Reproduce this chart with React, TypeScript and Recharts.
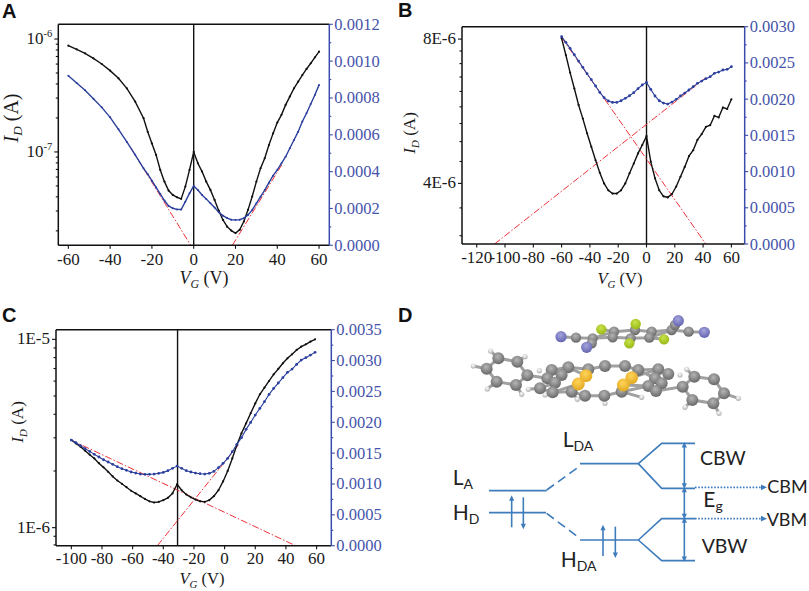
import { ComposedChart, Label, Line, LineChart, ReferenceLine, Scatter, XAxis, YAxis } from "recharts";

// panel A
const aVg = [-60, -56, -52, -48, -44, -40, -36, -32, -28, -24, -22, -20, -18, -16, -14, -12, -10, -8, -6, -4, -2, 0, 2, 4, 6, 8, 10, 12, 14, 16, 18, 20, 22, 24, 26, 28, 30, 32, 34, 36, 38, 40, 42, 44, 46, 48, 50, 52, 54, 56, 58, 60];
const aBlack = [8.73e-7, 8.1e-7, 7.47e-7, 6.74e-7, 6.01e-7, 5.25e-7, 4.49e-7, 3.66e-7, 2.79e-7, 1.99e-7, 1.51e-7, 1.19e-7, 9.41e-8, 6.93e-8, 5.46e-8, 4.55e-8, 4.16e-8, 3.97e-8, 3.84e-8, 4.93e-8, 6.93e-8, 1.0e-7, 7.94e-8, 6.7e-8, 5.46e-8, 4.61e-8, 3.76e-8, 3.02e-8, 2.5e-8, 2.18e-8, 2.01e-8, 1.91e-8, 2.04e-8, 2.42e-8, 3.07e-8, 4.03e-8, 5.46e-8, 7.17e-8, 8.79e-8, 1.15e-7, 1.46e-7, 1.82e-7, 2.13e-7, 2.61e-7, 3.09e-7, 3.66e-7, 4.19e-7, 4.8e-7, 5.43e-7, 6.09e-7, 6.88e-7, 7.73e-7];
const aBlue = [0.000921, 0.000881, 0.000842, 0.000796, 0.000749, 0.000695, 0.00063, 0.000561, 0.000491, 0.000418, 0.000386, 0.000351, 0.000315, 0.000279, 0.000243, 0.000214, 0.000201, 0.000195, 0.000194, 0.000237, 0.000282, 0.000322, 0.0003, 0.000273, 0.000252, 0.000228, 0.000205, 0.000179, 0.000161, 0.000148, 0.000139, 0.000138, 0.000139, 0.000147, 0.000165, 0.000192, 0.000228, 0.000264, 0.0003, 0.00034, 0.000378, 0.000409, 0.000445, 0.000481, 0.000527, 0.000572, 0.000617, 0.000672, 0.000717, 0.000767, 0.000816, 0.000871];
const aRedVg = [[-30, -1.44], [18.5, 42.1]];
const aRedI = [[0.000527, 0], [0, 0.000436]];
const aTicksX = [-60, -40, -20, 0, 20, 40, 60];
const aTicksL = [1e-6, 9e-7, 8e-7, 7e-7, 6e-7, 5e-7, 4e-7, 3e-7, 2e-7, 1e-7, 9e-8, 8e-8, 7e-8, 6e-8, 5e-8, 4e-8, 3e-8, 2e-8];
const aTicksR = [0, 0.0001, 0.0002, 0.0003, 0.0004, 0.0005, 0.0006, 0.0007, 0.0008, 0.0009, 0.001, 0.0011, 0.0012];

// panel B
const bVg = [-60, -57, -54, -51, -48, -45, -42, -39, -36, -33, -30, -27, -24, -21, -18, -15, -12, -9, -6, -3, 0, 3, 6, 9, 12, 15, 18, 21, 24, 27, 30, 33, 36, 39, 42, 45, 48, 51, 54, 57, 60];
const bBlack = [8.03e-6, 7.41e-6, 6.81e-6, 6.31e-6, 5.83e-6, 5.46e-6, 5.09e-6, 4.77e-6, 4.47e-6, 4.21e-6, 4.0e-6, 3.87e-6, 3.81e-6, 3.81e-6, 3.87e-6, 4.0e-6, 4.2e-6, 4.4e-6, 4.62e-6, 4.81e-6, 5.02e-6, 4.44e-6, 4.1e-6, 3.87e-6, 3.76e-6, 3.74e-6, 3.8e-6, 3.94e-6, 4.13e-6, 4.33e-6, 4.56e-6, 4.69e-6, 4.93e-6, 5.07e-6, 5.25e-6, 5.29e-6, 5.53e-6, 5.49e-6, 5.76e-6, 5.72e-6, 5.99e-6];
const bBlue = [0.002862, 0.002784, 0.002701, 0.002613, 0.002526, 0.002439, 0.002351, 0.002268, 0.002181, 0.002093, 0.00202, 0.001974, 0.001955, 0.001955, 0.001978, 0.002011, 0.002047, 0.002089, 0.002144, 0.002195, 0.002231, 0.002135, 0.002043, 0.001978, 0.001946, 0.001932, 0.00196, 0.001997, 0.002043, 0.002084, 0.002126, 0.002172, 0.002218, 0.00225, 0.002282, 0.00231, 0.002356, 0.002374, 0.002402, 0.002411, 0.002448];
const bRedVg = [[-60, 41.9], [-107.4, 41.5]];
const bRedI = [[0.00285, 0], [0, 0.00229]];
const bTicksX = [-120, -100, -80, -60, -40, -20, 0, 20, 40, 60];
const bTicksL = [8e-6, 7.556e-6, 7.111e-6, 6.667e-6, 6.222e-6, 5.778e-6, 5.333e-6, 4.889e-6, 4.444e-6, 4e-6, 3.556e-6, 3.111e-6];
const bTicksR = [0, 0.00025, 0.0005, 0.00075, 0.001, 0.00125, 0.0015, 0.00175, 0.002, 0.00225, 0.0025, 0.00275, 0.003];

// panel C
const cVg = [-100, -97, -94, -91, -88, -85, -82, -79, -76, -73, -70, -67, -64, -61, -58, -55, -52, -49, -46, -43, -40, -37, -34, -31, -28, -25, -22, -19, -16, -13, -10, -7, -4, -1, 2, 5, 8, 11, 14, 17, 20, 23, 26, 29, 32, 35, 38, 41, 44, 47, 50, 53, 56, 59];
const cBlack = [2.92e-6, 2.8e-6, 2.69e-6, 2.56e-6, 2.44e-6, 2.33e-6, 2.2e-6, 2.09e-6, 1.98e-6, 1.87e-6, 1.78e-6, 1.71e-6, 1.64e-6, 1.57e-6, 1.52e-6, 1.47e-6, 1.42e-6, 1.38e-6, 1.36e-6, 1.37e-6, 1.4e-6, 1.44e-6, 1.52e-6, 1.7e-6, 1.58e-6, 1.5e-6, 1.45e-6, 1.41e-6, 1.38e-6, 1.37e-6, 1.4e-6, 1.47e-6, 1.58e-6, 1.76e-6, 2.0e-6, 2.33e-6, 2.75e-6, 3.17e-6, 3.58e-6, 4.05e-6, 4.57e-6, 5.11e-6, 5.54e-6, 6.01e-6, 6.52e-6, 6.96e-6, 7.46e-6, 7.93e-6, 8.33e-6, 8.78e-6, 9.14e-6, 9.41e-6, 9.72e-6, 1e-5];
const cBlue = [0.001712, 0.001669, 0.00162, 0.001572, 0.001528, 0.00148, 0.001437, 0.001393, 0.001356, 0.001318, 0.00128, 0.001248, 0.001221, 0.001194, 0.001177, 0.001161, 0.001156, 0.001156, 0.001161, 0.001172, 0.001188, 0.001215, 0.001253, 0.001291, 0.001253, 0.001215, 0.001194, 0.001177, 0.001167, 0.001161, 0.001172, 0.001204, 0.001264, 0.001334, 0.001415, 0.001523, 0.001642, 0.00175, 0.001885, 0.001998, 0.002117, 0.002225, 0.002333, 0.002452, 0.002549, 0.002636, 0.002722, 0.002809, 0.002862, 0.002938, 0.003008, 0.003046, 0.003089, 0.003133];
const cRedVg = [[-100, 46.3], [-43.9, 8.9]];
const cRedI = [[0.00171, 0], [0, 0.00163]];
const cTicksX = [-100, -80, -60, -40, -20, 0, 20, 40, 60];
const cTicksL = [1e-5, 9e-6, 8e-6, 7e-6, 6e-6, 5e-6, 4e-6, 3e-6, 2e-6, 1e-6, 9e-7, 8.1e-7];
const cTicksR = [0, 0.00025, 0.0005, 0.00075, 0.001, 0.00125, 0.0015, 0.00175, 0.002, 0.00225, 0.0025, 0.00275, 0.003, 0.00325, 0.0035];

// panel D, read in the reference's own pixel grid (3x)
const levelLines = [
  [[207, 572], [380, 572]],
  [[480, 491], [655, 491], [725, 430], [825, 430]],
  [[655, 491], [725, 565], [825, 565]],
  [[207, 638], [378, 638]],
  [[480, 720], [655, 720], [725, 656], [825, 656]],
  [[655, 720], [725, 782], [825, 782]],
  [[275, 600], [275, 682]],
  [[310, 592], [310, 675]],
  [[549, 688], [549, 768]],
  [[586, 680], [586, 760]],
  [[793, 438], [793, 553]],
  [[793, 573], [793, 645]],
  [[793, 666], [793, 774]],
];
const dashedLines = [
  [[380, 570], [470, 505]],
  [[380, 640], [470, 708]],
];
const dottedLines = [
  [[825, 562], [1025, 562]],
  [[825, 656], [1025, 656]],
];
const arrowHeads = [
  { x: 275, y: 592, dir: "up" }, { x: 310, y: 682, dir: "down" },
  { x: 549, y: 680, dir: "up" }, { x: 586, y: 768, dir: "down" },
  { x: 793, y: 432, dir: "up" }, { x: 793, y: 560, dir: "down" },
  { x: 793, y: 566, dir: "up" }, { x: 793, y: 652, dir: "down" },
  { x: 793, y: 658, dir: "up" }, { x: 793, y: 780, dir: "down" },
  { x: 1035, y: 562, dir: "right" }, { x: 1035, y: 656, dir: "right" },
];
const levelNames = [
  { x: 98, y: 555, main: "L", sub: "A", size: 21 },
  { x: 98, y: 660, main: "H", sub: "D", size: 21 },
  { x: 428, y: 440, main: "L", sub: "DA", size: 21 },
  { x: 422, y: 802, main: "H", sub: "DA", size: 21 },
  { x: 850, y: 622, main: "E", sub: "g", size: 21 },
  { x: 840, y: 494, main: "CBW", sub: "", size: 19.5 },
  { x: 845, y: 758, main: "VBW", sub: "", size: 19.5 },
  { x: 1042, y: 580, main: "CBM", sub: "", size: 18 },
  { x: 1040, y: 678, main: "VBM", sub: "", size: 18 },
];
const bondLines = [
  [[423, 110], [468, 113], [518, 115], [500, 142]],
  [[518, 115], [582, 95], [645, 90], [695, 95], [755, 90], [775, 62]],
  [[755, 90], [806, 95], [853, 97]],
  [[518, 115], [578, 112], [632, 115], [688, 113], [755, 90]],
  [[544, 88], [582, 95]],
  [[647, 72], [645, 90]],
  [[628, 130], [632, 115]],
  [[732, 118], [688, 113]],
  [[235, 175], [292, 185], [322, 226], [288, 255], [230, 245], [200, 206], [235, 175]],
  [[322, 226], [382, 235], [395, 210], [445, 202], [505, 208], [555, 198], [615, 198], [655, 210], [715, 208], [745, 222], [725, 250], [705, 235], [655, 210]],
  [[382, 235], [405, 248], [360, 265], [398, 277], [455, 275], [495, 287], [553, 287], [605, 275], [685, 258], [708, 273], [725, 250]],
  [[708, 273], [788, 260], [823, 230], [882, 238], [912, 280], [880, 310], [817, 300], [788, 260]],
  [[395, 210], [425, 225], [405, 248]],
  [[445, 202], [498, 227], [475, 252], [398, 277]],
  [[635, 233], [610, 255], [685, 258]],
  [[635, 233], [715, 208]],
  [[235, 175], [212, 153]],
  [[292, 185], [315, 170]],
  [[200, 206], [160, 198]],
  [[230, 245], [202, 267]],
  [[288, 255], [305, 283]],
  [[912, 280], [955, 295]],
  [[880, 310], [897, 340]],
  [[817, 300], [795, 322]],
  [[823, 230], [800, 208]],
  [[360, 265], [325, 268]],
  [[398, 277], [375, 285]],
  [[455, 275], [472, 298]],
  [[553, 287], [555, 310]],
  [[605, 275], [665, 292]],
];
const hydrogen = [[212, 153], [315, 170], [160, 198], [202, 267], [305, 283], [325, 268], [358, 212], [375, 285], [472, 298], [555, 310], [665, 292], [800, 208], [780, 225], [955, 295], [897, 340], [795, 322]];
const carbonTop = [[468, 113], [518, 115], [515, 130], [582, 95], [578, 112], [645, 90], [632, 115], [695, 95], [688, 113], [755, 90], [765, 75], [806, 95]];
const carbonBottom = [[235, 175], [292, 185], [200, 206], [322, 226], [230, 245], [288, 255], [395, 210], [445, 202], [382, 235], [425, 225], [405, 248], [360, 265], [398, 277], [455, 275], [495, 287], [553, 287], [605, 275], [505, 208], [555, 198], [615, 198], [655, 210], [715, 208], [745, 222], [705, 235], [725, 250], [685, 258], [708, 273], [788, 260], [823, 230], [882, 238], [912, 280], [880, 310], [817, 300]];
const nitrogen = [[423, 110], [500, 142], [775, 62], [853, 97]];
const fluorine = [[544, 88], [647, 72], [628, 130], [732, 118]];
const sulfur = [[498, 227], [475, 252], [635, 233], [610, 255]];

const SERIF = "'Liberation Serif', serif";
const BLUE_TEXT = "#4553ab";
const BLUE_AXIS = "#3a4cae";
const BLUE_LINE = "#2b3f9e";
const RED = "#ee3038";
const DIAGRAM = "#3f7cbc";

const zip = (xs: number[], ys: number[]) => xs.map((x, i) => ({ x, y: ys[i] }));
const toPts = (pts: number[][]) => pts.map(([x, y]) => ({ x, y }));

function AxisName({ x, y, main, sub, tail, rotate, size }: any) {
  return (
    <text x={x} y={y} fontFamily={SERIF} fontSize={size} fill="#1a1a1a" textAnchor="middle" transform={rotate ? `rotate(-90 ${x} ${y})` : undefined}>
      <tspan fontStyle="italic">{main}</tspan>
      <tspan fontStyle="italic" fontSize={size * 0.66} dy={4}>{sub}</tspan>
      <tspan dy={-4}>{tail}</tspan>
    </text>
  );
}

function Panel({ box, plot, xDomain, xTicks, lDomain, lTicks, lMajor, rDomain, rTicks, rMajor, vg, black, blue, redVg, redI, zero, xName, yName, xTickY, dotR, lineW }: any) {
  const leftTick = (p: any) => {
    const v = p.payload.value;
    const major = lMajor.find((m: any) => Math.abs(m.v - v) < v * 0.001);
    return (
      <g>
        <line x1={plot.l} x2={plot.l - (major ? 4 : 2.5)} y1={p.y} y2={p.y} stroke="#111" strokeWidth={1.1} />
        {major && (
          <text x={plot.l - 6} y={p.y + 5} textAnchor="end" fontFamily={SERIF} fontSize={17} fill="#1a1a1a">
            {major.t}
            {major.sup && <tspan fontSize={10.5} dy={-7}>{major.sup}</tspan>}
          </text>
        )}
      </g>
    );
  };
  const rightTick = (p: any) => {
    const v = p.payload.value;
    const major = rMajor.some((m: number) => Math.abs(m - v) < 1e-7);
    return (
      <g>
        <line x1={plot.r} x2={plot.r + (major ? 3.5 : 2)} y1={p.y} y2={p.y} stroke={BLUE_AXIS} strokeWidth={1.1} />
        {major && (
          <text x={plot.r + 5} y={p.y + 5.5} fontFamily={SERIF} fontSize={16.5} fill={BLUE_TEXT}>{v.toFixed(4)}</text>
        )}
      </g>
    );
  };
  const bottomTick = (p: any) => (
    <g>
      <line x1={p.x} x2={p.x} y1={plot.b} y2={plot.b + 3.5} stroke="#111" strokeWidth={1.1} />
      <text x={p.x} y={xTickY} textAnchor="middle" fontFamily={SERIF} fontSize={17} fill="#1a1a1a">{p.payload.value}</text>
    </g>
  );
  return (
    <div style={{ position: "absolute", left: box.x, top: box.y, width: box.w, height: box.h }}>
      <LineChart width={box.w} height={box.h} margin={{ top: plot.t, right: 0, bottom: 0, left: 0 }}>
        <XAxis
          type="number"
          dataKey="x"
          domain={xDomain}
          ticks={xTicks}
          allowDataOverflow
          interval={0}
          height={box.h - plot.b}
          tickLine={false}
          axisLine={{ stroke: "#111", strokeWidth: 1.5 }}
          tick={bottomTick}
        >
          <Label content={() => <AxisName {...xName} />} />
        </XAxis>
        <YAxis
          yAxisId="left"
          scale="log"
          type="number"
          domain={lDomain}
          ticks={lTicks}
          allowDataOverflow
          interval={0}
          width={plot.l}
          tickLine={false}
          axisLine={{ stroke: "#111", strokeWidth: 1.5 }}
          tick={leftTick}
        >
          <Label content={() => <AxisName {...yName} rotate />} />
        </YAxis>
        <YAxis
          yAxisId="right"
          orientation="right"
          type="number"
          domain={rDomain}
          ticks={rTicks}
          allowDataOverflow
          interval={0}
          width={box.w - plot.r}
          tickLine={false}
          axisLine={{ stroke: BLUE_AXIS, strokeWidth: 1.5 }}
          tick={rightTick}
        />
        <ReferenceLine yAxisId="right" y={rDomain[1]} stroke="#111" strokeWidth={1.5} />
        <ReferenceLine yAxisId="right" x={zero} stroke="#111" strokeWidth={1.4} />
        {redVg.map((xs: number[], i: number) => (
          <Line key={i} yAxisId="right" data={zip(xs, redI[i])} dataKey="y" stroke={RED} strokeWidth={1} strokeDasharray="7 2 1.5 2" dot={false} isAnimationActive={false} />
        ))}
        <Line yAxisId="left" data={zip(vg, black)} dataKey="y" stroke="#111" strokeWidth={1.4} dot={{ r: 1.1, fill: "#111", strokeWidth: 0 }} isAnimationActive={false} />
        <Line yAxisId="right" data={zip(vg, blue)} dataKey="y" stroke={BLUE_LINE} strokeWidth={lineW} dot={{ r: dotR, fill: BLUE_LINE, strokeWidth: 0 }} isAnimationActive={false} />
      </LineChart>
    </div>
  );
}

const arrowShape = (p: any) => {
  const { cx, cy } = p;
  const d = p.payload.dir;
  const path =
    d === "up" ? `M${cx} ${cy - 2}L${cx - 2.6} ${cy + 3.5}L${cx + 2.6} ${cy + 3.5}Z`
    : d === "down" ? `M${cx} ${cy + 2}L${cx - 2.6} ${cy - 3.5}L${cx + 2.6} ${cy - 3.5}Z`
    : `M${cx + 2} ${cy}L${cx - 4} ${cy - 2.8}L${cx - 4} ${cy + 2.8}Z`;
  return <path d={path} fill={DIAGRAM} />;
};

const nameShape = (p: any) => (
  <text x={p.cx} y={p.cy} fontFamily="Lato, sans-serif" fontSize={p.payload.size} fill="#222">
    {p.payload.main}
    {p.payload.sub && <tspan fontSize={14} dy={4}>{p.payload.sub}</tspan>}
  </text>
);

const atom = (r: number, fill: string) => (p: any) => <circle cx={p.cx} cy={p.cy} r={r} fill={fill} />;

function Diagram() {
  return (
    <div style={{ position: "absolute", left: 420, top: 300, width: 389, height: 291 }}>
      <ComposedChart width={389} height={291} margin={{ top: 0, right: 0, bottom: 0, left: 0 }}>
        <defs>
          <radialGradient id="gc" cx="45%" cy="35%" r="70%">
            <stop offset="0%" stopColor="#b5b5b5" />
            <stop offset="100%" stopColor="#626262" />
          </radialGradient>
          <radialGradient id="gn" cx="45%" cy="35%" r="70%">
            <stop offset="0%" stopColor="#a5a5dc" />
            <stop offset="100%" stopColor="#5f5fae" />
          </radialGradient>
          <radialGradient id="gf" cx="45%" cy="35%" r="70%">
            <stop offset="0%" stopColor="#c9e24a" />
            <stop offset="100%" stopColor="#93b612" />
          </radialGradient>
          <radialGradient id="gs" cx="45%" cy="35%" r="70%">
            <stop offset="0%" stopColor="#ffd45a" />
            <stop offset="100%" stopColor="#e0a51c" />
          </radialGradient>
          <radialGradient id="gh" cx="45%" cy="35%" r="70%">
            <stop offset="0%" stopColor="#ffffff" />
            <stop offset="100%" stopColor="#a8a8a8" />
          </radialGradient>
        </defs>
        <XAxis hide type="number" dataKey="x" domain={[0, 1167]} />
        <YAxis hide type="number" reversed domain={[0, 873]} />
        {bondLines.map((pts, i) => (
          <Line key={"bond" + i} data={toPts(pts)} dataKey="y" stroke="#a0a0a0" strokeWidth={3} dot={false} isAnimationActive={false} />
        ))}
        <Scatter data={toPts(hydrogen)} dataKey="y" shape={atom(2.6, "url(#gh)")} isAnimationActive={false} />
        <Scatter data={toPts(carbonTop)} dataKey="y" shape={atom(5.2, "url(#gc)")} isAnimationActive={false} />
        <Scatter data={toPts(carbonBottom)} dataKey="y" shape={atom(6, "url(#gc)")} isAnimationActive={false} />
        <Scatter data={toPts(nitrogen)} dataKey="y" shape={atom(5.6, "url(#gn)")} isAnimationActive={false} />
        <Scatter data={toPts(fluorine)} dataKey="y" shape={atom(5.2, "url(#gf)")} isAnimationActive={false} />
        <Scatter data={toPts(sulfur)} dataKey="y" shape={atom(6.4, "url(#gs)")} isAnimationActive={false} />
        {levelLines.map((pts, i) => (
          <Line key={"lv" + i} data={toPts(pts)} dataKey="y" stroke={DIAGRAM} strokeWidth={1.6} dot={false} isAnimationActive={false} />
        ))}
        {dashedLines.map((pts, i) => (
          <Line key={"da" + i} data={toPts(pts)} dataKey="y" stroke={DIAGRAM} strokeWidth={1.6} strokeDasharray="9 5" dot={false} isAnimationActive={false} />
        ))}
        {dottedLines.map((pts, i) => (
          <Line key={"do" + i} data={toPts(pts)} dataKey="y" stroke={DIAGRAM} strokeWidth={1.6} strokeDasharray="1.6 1.6" dot={false} isAnimationActive={false} />
        ))}
        <Scatter data={arrowHeads} dataKey="y" shape={arrowShape} isAnimationActive={false} />
        <Scatter data={levelNames} dataKey="y" shape={nameShape} isAnimationActive={false} />
      </ComposedChart>
    </div>
  );
}

function Letter({ x, y, c }: { x: number; y: number; c: string }) {
  return (
    <div style={{ position: "absolute", left: x, top: y, fontFamily: "'Liberation Sans', sans-serif", fontWeight: 700, fontSize: 20, lineHeight: "20px", color: "#111" }}>{c}</div>
  );
}

export default function App() {
  return (
    <div style={{ position: "absolute", left: 0, top: 0, width: 809, height: 591, background: "#fff", overflow: "hidden" }}>
      <Panel
        box={{ x: 0, y: 0, w: 400, h: 290 }}
        plot={{ l: 58.3, r: 329.3, t: 24.3, b: 245.3 }}
        xDomain={[-64.8, 64.9]}
        xTicks={aTicksX}
        lDomain={[1.49e-8, 1.35e-6]}
        lTicks={aTicksL}
        lMajor={[{ v: 1e-6, t: "10", sup: "-6" }, { v: 1e-7, t: "10", sup: "-7" }]}
        rDomain={[0, 0.0012]}
        rTicks={aTicksR}
        rMajor={[0, 0.0002, 0.0004, 0.0006, 0.0008, 0.001, 0.0012]}
        vg={aVg}
        black={aBlack}
        blue={aBlue}
        redVg={aRedVg}
        redI={aRedI}
        zero={0}
        xTickY={265}
        dotR={1}
        lineW={1.4}
        xName={{ x: 204, y: 284, main: "V", sub: "G", tail: " (V)", size: 18 }}
        yName={{ x: 18, y: 118, main: "I", sub: "D", tail: " (A)", size: 20 }}
      />
      <Panel
        box={{ x: 400, y: 0, w: 409, h: 290 }}
        plot={{ l: 62, r: 344.7, t: 26.7, b: 244 }}
        xDomain={[-130.4, 69.4]}
        xTicks={bTicksX}
        lDomain={[2.99e-6, 8.49e-6]}
        lTicks={bTicksL}
        lMajor={[{ v: 8e-6, t: "8E-6" }, { v: 4e-6, t: "4E-6" }]}
        rDomain={[0, 0.003]}
        rTicks={bTicksR}
        rMajor={[0, 0.0005, 0.001, 0.0015, 0.002, 0.0025, 0.003]}
        vg={bVg}
        black={bBlack}
        blue={bBlue}
        redVg={bRedVg}
        redI={bRedI}
        zero={0}
        xTickY={263}
        dotR={1.4}
        lineW={1.1}
        xName={{ x: 220, y: 284, main: "V", sub: "G", tail: " (V)", size: 16.5 }}
        yName={{ x: 15, y: 133, main: "I", sub: "D", tail: " (A)", size: 17 }}
      />
      <Panel
        box={{ x: 0, y: 295, w: 400, h: 296 }}
        plot={{ l: 56, r: 331.3, t: 34.7, b: 250.7 }}
        xDomain={[-110, 69.6]}
        xTicks={cTicksX}
        lDomain={[8.02e-7, 1.125e-5]}
        lTicks={cTicksL}
        lMajor={[{ v: 1e-5, t: "1E-5" }, { v: 1e-6, t: "1E-6" }]}
        rDomain={[0, 0.0035]}
        rTicks={cTicksR}
        rMajor={[0, 0.0005, 0.001, 0.0015, 0.002, 0.0025, 0.003, 0.0035]}
        vg={cVg}
        black={cBlack}
        blue={cBlue}
        redVg={cRedVg}
        redI={cRedI}
        zero={-30.7}
        xTickY={269}
        dotR={1.4}
        lineW={1.1}
        xName={{ x: 202, y: 289, main: "V", sub: "G", tail: " (V)", size: 16.5 }}
        yName={{ x: 23, y: 127, main: "I", sub: "D", tail: " (A)", size: 17 }}
      />
      <Diagram />
      <Letter x={2} y={1} c="A" />
      <Letter x={398} y={0} c="B" />
      <Letter x={2} y={305} c="C" />
      <Letter x={398} y={305} c="D" />
    </div>
  );
}
